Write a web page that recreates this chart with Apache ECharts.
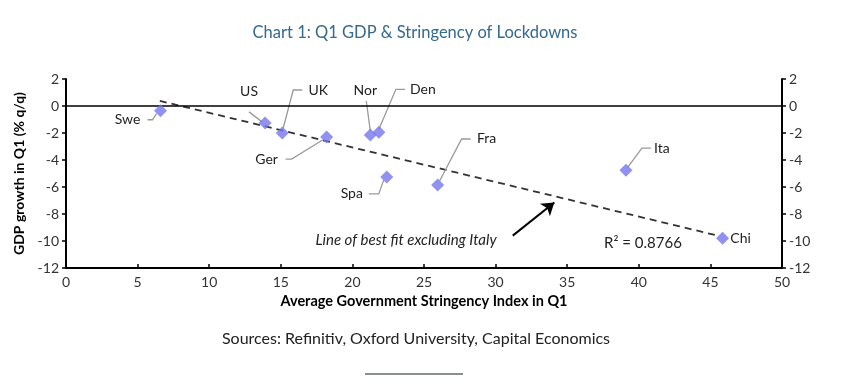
<!DOCTYPE html>
<html><head><meta charset="utf-8">
<script src="https://cdn.jsdelivr.net/npm/echarts@6/dist/echarts.min.js"></script>
<style>html,body{margin:0;padding:0;background:#fff}#c{width:859px;height:386px}</style>
</head><body><div id="c"></div>
<script>
// Data
const countries = ['Swe','US','UK','Ger','Nor','Den','Spa','Fra','Ita','Chi'];
const stringency = [6.6, 13.9, 15.1, 18.2, 21.25, 21.85, 22.4, 25.95, 39.1, 45.85];
const gdpGrowth = [-0.35, -1.25, -2.0, -2.3, -2.15, -1.95, -5.25, -5.85, -4.75, -9.8];
const fitX = [6.55, 45.5];
const fitY = [0.38, -9.6];
const xTicks = [0, 5, 10, 15, 20, 25, 30, 35, 40, 45, 50];
const yTicks = [-12, -10, -8, -6, -4, -2, 0, 2];
// label placement (pixel offsets from each point): text centre, then leader polyline
const labelText = {Swe:[-33,9],US:[-16,-31],UK:[36,-43],Ger:[-60,22],Nor:[-5,-45],Den:[44,-43],Spa:[-35,17],Fra:[49,-46],Ita:[36,-22],Chi:[18,0]};
const labelLeader = {
  Swe:[[-13,9],[-8,9],[-4,3]],
  US:[[-16,-11],[-3,-1]],
  UK:[[20,-43],[11,-43],[1,-5]],
  Ger:[[-41,22],[-35,22],[-4,3]],
  Nor:[[-4,-34],[0,-4]],
  Den:[[26,-43],[17,-43],[0,-3]],
  Spa:[[-18,17],[-8,17],[-3,3]],
  Fra:[[33,-46],[24,-46],[2,-4]],
  Ita:[[25,-22],[16,-22],[2,-3]],
  Chi:[]
};

const FONT = 'Lato';
const chart = echarts.init(document.getElementById('c'));
const axisCommon = {
  type: 'value', min: yTicks[0], max: yTicks[yTicks.length-1], interval: 2,
  splitLine: {show: false},
  axisLine: {show: true, lineStyle: {color: '#000', width: 2}},
  axisTick: {show: true, inside: false, length: 4, lineStyle: {color: '#000', width: 1.5}},
  axisLabel: {color: '#333', fontSize: 14, fontFamily: FONT, margin: 7}
};
chart.setOption({
  animation: false,
  grid: {left: 66, right: 77, top: 79, bottom: 118},
  xAxis: {
    type: 'value', min: xTicks[0], max: xTicks[xTicks.length-1], interval: 5,
    name: 'Average Government Stringency Index in Q1', nameLocation: 'middle', nameGap: 26,
    nameTextStyle: {color: '#000', fontSize: 14.5, fontWeight: 'bold', fontFamily: FONT},
    splitLine: {show: false},
    axisLine: {show: true, onZero: false, lineStyle: {color: '#000', width: 2}},
    axisTick: {show: true, inside: true, length: 4, lineStyle: {color: '#000', width: 1.5}},
    axisLabel: {color: '#333', fontSize: 14, fontFamily: FONT, margin: 7}
  },
  yAxis: [
    Object.assign({}, axisCommon, {
      position: 'left',
      name: 'GDP growth in Q1 (% q/q)', nameLocation: 'middle', nameGap: 34,
      nameTextStyle: {color: '#000', fontSize: 14, fontWeight: 'bold', fontFamily: FONT}
    }),
    Object.assign({}, axisCommon, {position: 'right'})
  ],
  series: [
    {
      type: 'line', data: fitX.map((x,i)=>[x, fitY[i]]), showSymbol: false, symbol: 'none',
      lineStyle: {color: '#333', width: 1.8, type: [7,5]}, z: 2,
      markLine: {
        silent: true, symbol: 'none', animation: false,
        lineStyle: {color: '#000', width: 1.5, type: 'solid'},
        label: {show: false},
        data: [[{coord: [xTicks[0], 0]}, {coord: [xTicks[xTicks.length-1], 0]}]]
      }
    },
    {
      type: 'line', data: [], markLine: {
        silent: true, symbol: ['none', 'arrow'], symbolSize: 12,
        lineStyle: {color: '#000', width: 2, type: 'solid'}, label: {show: false},
        data: [[{coord: [31.2, -9.6]}, {coord: [34.1, -7.15]}]]
      }
    },
    {
      type: 'custom', z: 4, silent: true,
      data: countries.map((c,i)=>[stringency[i], gdpGrowth[i], i]),
      renderItem: function (params, api) {
        const p = api.coord([api.value(0), api.value(1)]);
        const c = countries[api.value(2)];
        const t = labelText[c];
        const children = [];
        const lead = labelLeader[c];
        if (lead.length) {
          children.push({type: 'polyline', shape: {points: lead.map(d => [p[0]+d[0], p[1]+d[1]])},
            style: {stroke: '#9a9a9a', lineWidth: 1.3, fill: null}});
        }
        children.push({type: 'text', style: {text: c, x: p[0]+t[0], y: p[1]+t[1],
          align: 'center', verticalAlign: 'middle', fill: '#222', font: '14px Lato'}});
        return {type: 'group', children: children};
      }
    },
    {
      type: 'scatter', symbol: 'diamond', symbolSize: 13, z: 5,
      itemStyle: {color: '#7676ee'},
      data: stringency.map((x,i)=>[x, gdpGrowth[i]])
    }
  ],
  graphic: [
    {type: 'text', x: 415, y: 33, style: {text: 'Chart 1: Q1 GDP & Stringency of Lockdowns', align: 'center', verticalAlign: 'middle', fill: '#35698f', font: '16.5px Lato'}},
    {type: 'text', x: 406, y: 240, style: {text: 'Line of best fit excluding Italy', align: 'center', verticalAlign: 'middle', fill: '#222', font: 'italic 15px Lato'}},
    {type: 'text', x: 643, y: 243, style: {text: 'R² = 0.8766', align: 'center', verticalAlign: 'middle', fill: '#222', font: '15px Lato'}},
    {type: 'text', x: 416, y: 339, style: {text: 'Sources: Refinitiv, Oxford University, Capital Economics', align: 'center', verticalAlign: 'middle', fill: '#222', font: '16px Lato'}},
    {type: 'rect', x: 365, y: 373, shape: {width: 98, height: 2}, style: {fill: '#8a8f94'}}
  ]
});
</script></body></html>
